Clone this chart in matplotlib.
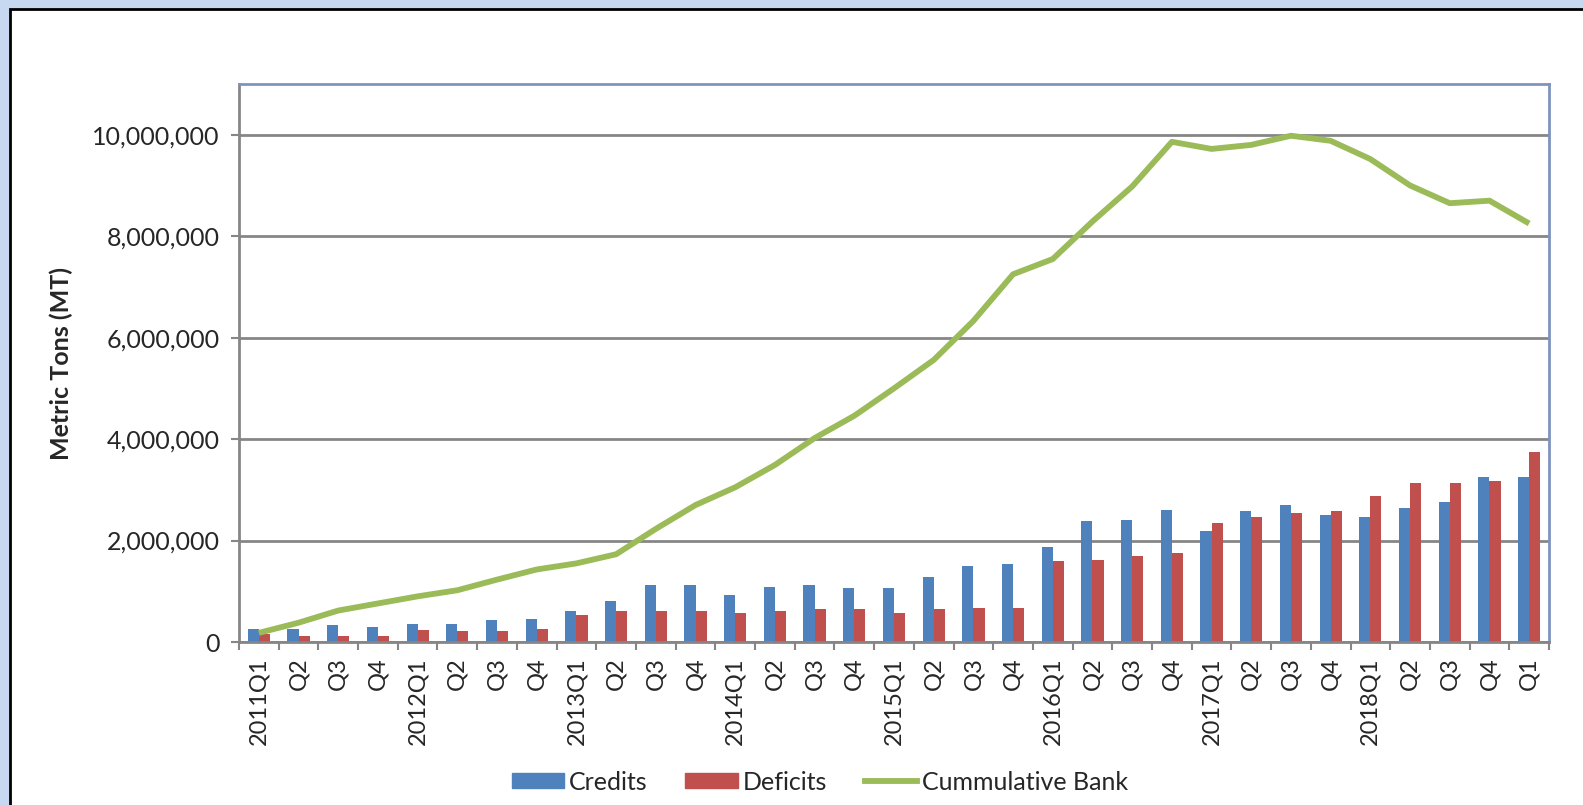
import numpy as np
import matplotlib
matplotlib.use('Agg')
import matplotlib.pyplot as plt
from matplotlib.patches import Rectangle, Patch
from matplotlib.lines import Line2D
from matplotlib.ticker import FuncFormatter, MultipleLocator

plt.rcParams['font.family'] = ['Lato', 'DejaVu Sans']

# quarters 2011Q1 .. 2019Q1
quarters = ['2011Q1', 'Q2', 'Q3', 'Q4',
            '2012Q1', 'Q2', 'Q3', 'Q4',
            '2013Q1', 'Q2', 'Q3', 'Q4',
            '2014Q1', 'Q2', 'Q3', 'Q4',
            '2015Q1', 'Q2', 'Q3', 'Q4',
            '2016Q1', 'Q2', 'Q3', 'Q4',
            '2017Q1', 'Q2', 'Q3', 'Q4',
            '2018Q1', 'Q2', 'Q3', 'Q4',
            'Q1']

credits = [0.25, 0.25, 0.33, 0.30,
           0.36, 0.36, 0.43, 0.46,
           0.62, 0.80, 1.12, 1.12,
           0.93, 1.09, 1.12, 1.07,
           1.07, 1.28, 1.49, 1.54,
           1.88, 2.38, 2.41, 2.60,
           2.18, 2.58, 2.71, 2.50,
           2.47, 2.65, 2.76, 3.26,
           3.26]

deficits = [0.16, 0.125, 0.125, 0.125,
            0.24, 0.22, 0.22, 0.25,
            0.54, 0.62, 0.62, 0.62,
            0.57, 0.62, 0.645, 0.645,
            0.57, 0.645, 0.67, 0.67,
            1.59, 1.62, 1.70, 1.75,
            2.34, 2.46, 2.55, 2.58,
            2.87, 3.13, 3.13, 3.18,
            3.74]

bank = [0.18, 0.38, 0.62, 0.76,
        0.90, 1.02, 1.23, 1.43,
        1.55, 1.73, 2.23, 2.70,
        3.05, 3.49, 4.02, 4.46,
        5.00, 5.56, 6.33, 7.25,
        7.55, 8.29, 8.98, 9.86,
        9.72, 9.80, 9.98, 9.88,
        9.52, 9.00, 8.65, 8.70,
        8.25]

credits = np.array(credits) * 1e6
deficits = np.array(deficits) * 1e6
bank = np.array(bank) * 1e6

c_blue = '#4f81bd'
c_red = '#c0504d'
c_green = '#9bbb59'
c_grid = '#868686'
c_text = '#262626'

fig = plt.figure(figsize=(15.83, 8.05), dpi=100)
fig.patch.set_facecolor('#c6d9f1')
fig.patches.append(Rectangle((9.5/1583, -0.05), 1.1, 1 - 9/805 + 0.05,
                             transform=fig.transFigure, facecolor='white',
                             edgecolor='black', linewidth=2.0, zorder=-1))

ax = fig.add_axes([239/1583, 1 - 642/805, (1549-239)/1583, (642-84)/805])
x = np.arange(len(quarters))
w = 0.28
ax.bar(x - w/2, credits, w, color=c_blue, zorder=2)
ax.bar(x + w/2, deficits, w, color=c_red, zorder=2)
ax.plot(x, bank, color=c_green, lw=4.2, zorder=3, solid_capstyle='butt')

ax.set_xlim(-0.5, len(quarters) - 0.5)
ax.set_ylim(0, 11e6)
ax.yaxis.set_major_locator(MultipleLocator(2e6))
ax.yaxis.set_major_formatter(FuncFormatter(lambda v, p: f'{int(v):,}'))
ax.grid(axis='y', color=c_grid, lw=2, zorder=1)
ax.set_axisbelow(True)

ax.set_xticks(x)
ax.set_xticklabels(quarters, rotation=90, fontsize=17, color=c_text)
ax.set_xticks(np.arange(-0.5, len(quarters)), minor=True)
ax.tick_params(axis='x', which='major', length=0, pad=11)
ax.tick_params(axis='x', which='minor', length=6, width=1.5, color=c_grid)
ax.tick_params(axis='y', length=6, width=1.5, color=c_grid, labelsize=18,
               labelcolor=c_text, pad=8)

for s in ['left', 'bottom']:
    ax.spines[s].set_color(c_grid)
    ax.spines[s].set_linewidth(2)
for s in ['top', 'right']:
    ax.spines[s].set_color('#7d95bd')
    ax.spines[s].set_linewidth(2)

ax.set_ylabel('Metric Tons (MT)', fontsize=18, fontweight='bold', labelpad=14,
              color=c_text)

handles = [Patch(color=c_blue, label='Credits'),
           Patch(color=c_red, label='Deficits'),
           Line2D([], [], color=c_green, lw=4.2, label='Cummulative Bank')]
fig.legend(handles=handles, loc='center', bbox_to_anchor=(820/1583, 1 - 782/805),
           ncol=3, frameon=False, fontsize=18, handlelength=2.1, handleheight=0.55,
           handletextpad=0.2, columnspacing=1.5, labelcolor=c_text)

fig.savefig('out.png', dpi=100, facecolor=fig.get_facecolor())
